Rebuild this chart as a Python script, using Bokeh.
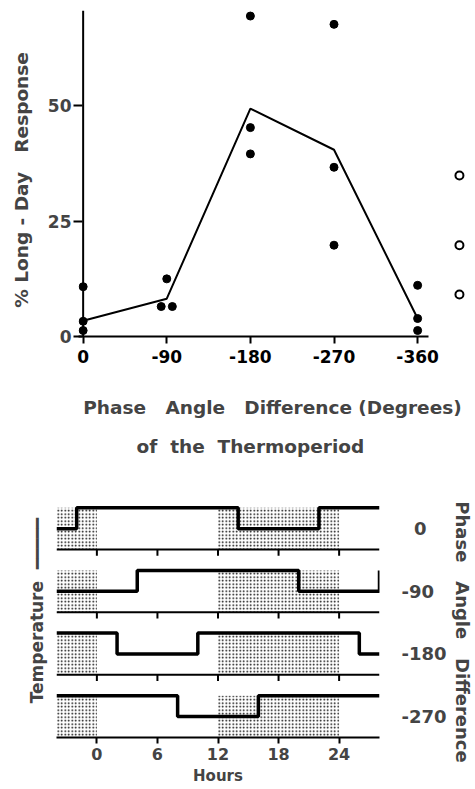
from bokeh.plotting import figure
from bokeh.models import Range1d, FixedTicker, Span, Title, LinearAxis
from bokeh.layouts import column
from bokeh.embed import file_html
from bokeh.resources import INLINE

# ---------------- upper panel data ----------------
phase_pts = [0, 0, 0, -84, -96, -90, -180, -180, -180, -270, -270, -270, -360, -360, -360]
resp_pts = [10.8, 3.3, 1.3, 6.5, 6.5, 12.5, 69.5, 45.3, 39.6, 67.7, 36.7, 19.8, 11.1, 3.9, 1.3]
mean_phase = [0, -90, -180, -270, -360]
mean_resp = [3.4, 8.2, 49.4, 40.5, 3.9]
control_phase = [-405, -405, -405]
control_resp = [34.9, 19.8, 9.1]
phase_ticks = [0, -90, -180, -270, -360]
phase_tick_labels = ["0", "-90", "-180", "-270", "-360"]
resp_ticks = [0, 25, 50]

# ---------------- lower panel data ----------------
hour_ticks = [0, 6, 12, 18, 24]
panel_labels = ["\u20070", "-90", "-180", "-270"]
dark_start = [-4, 12]
dark_end = [0, 24]
# temperature schedule per panel: change hours and level (1 = cool, 2 = warm)
step_hours = [
    [-4, -2, 14, 22, 28],
    [-4, 4, 20, 28],
    [-4, 2, 10, 26, 28],
    [-4, 8, 16, 28],
]
step_level = [
    [1, 2, 1, 2, 2],
    [1, 2, 1, 2],
    [2, 1, 2, 1, 1],
    [2, 1, 2, 2],
]

FONT = "DejaVu Sans"
NB = "\u00a0"
PANEL_GAP = 3  # vertical spacing between schedule strips (data units)

# ================= upper figure =================
top = figure(width=467, height=470, x_range=Range1d(5, -412.6), y_range=Range1d(0, 70.7),
             output_backend="svg", toolbar_location=None, frame_align=False,
             min_border_left=78, min_border_right=1, min_border_top=10, min_border_bottom=133)
top.outline_line_color = None
top.grid.visible = False
top.background_fill_color = "white"

xa = top.xaxis[0]
xa.ticker = FixedTicker(ticks=phase_ticks)
xa.major_label_overrides = {t: s for t, s in zip(phase_ticks, phase_tick_labels)}
xa.bounds = (-372, 5)
xa.axis_line_width = 2
xa.major_tick_line_width = 2
xa.major_tick_out = 7
xa.major_tick_in = 0
xa.minor_tick_line_color = None
xa.major_label_standoff = 6
xa.major_label_text_font = FONT
xa.major_label_text_font_style = "bold"
xa.major_label_text_font_size = "17px"
xa.major_label_text_color = "black"
xa.axis_label = f"Phase{NB}{NB} Angle{NB}{NB} Difference (Degrees)"
xa.axis_label_text_font = FONT
xa.axis_label_text_font_style = "bold"
xa.axis_label_text_font_size = "18.5px"
xa.axis_label_standoff = 31

ya = top.yaxis[0]
ya.ticker = FixedTicker(ticks=resp_ticks)
ya.axis_line_color = None
ya.major_tick_line_width = 2
ya.major_tick_out = 5
ya.major_tick_in = 4
ya.minor_tick_line_color = None
ya.major_label_standoff = 2
ya.major_label_text_font = FONT
ya.major_label_text_font_style = "bold"
ya.major_label_text_font_size = "17px"
ya.axis_label = f"% Long - Day{NB}{NB} Response{NB}{NB}"
ya.axis_label_text_font = FONT
ya.axis_label_text_font_style = "bold"
ya.axis_label_text_font_size = "18.5px"
ya.axis_label_standoff = 13

top.add_layout(Span(location=0, dimension="height", line_color="black", line_width=2))

top.line(mean_phase, mean_resp, line_color="black", line_width=2)
top.scatter(phase_pts, resp_pts, size=8, color="black")
top.scatter(control_phase, control_resp, size=8, fill_color="white", line_color="black", line_width=2)

top.add_layout(Title(text=f"of{NB} the{NB} Thermoperiod", align="left", offset=58,
                     text_font=FONT, text_font_style="bold", text_font_size="18.5px",
                     standoff=27), "below")

# ================= lower figure =================
bot = figure(width=475, height=318, x_range=Range1d(-4, 28), y_range=Range1d(-9, 2.3),
             output_backend="svg", toolbar_location=None, frame_align=False,
             min_border_left=56, min_border_right=87, min_border_top=31, min_border_bottom=51)
bot.outline_line_color = None
bot.grid.visible = False

n = len(step_hours)
for k in range(n):
    base = -PANEL_GAP * k
    bot.quad(left=dark_start, right=dark_end, bottom=[base] * len(dark_start), top=[base + 2] * len(dark_start),
             fill_color="white", line_color=None, hatch_pattern="dot", hatch_color="black",
             hatch_scale=3.5, hatch_weight=1.6)
for k in range(n - 1):
    base = -PANEL_GAP * k
    bot.segment(x0=[-4], y0=[base], x1=[28], y1=[base], line_color="black", line_width=2)
    bot.segment(x0=hour_ticks, y0=[base] * len(hour_ticks), x1=hour_ticks, y1=[base - 0.3] * len(hour_ticks),
                line_color="black", line_width=2)
for k in range(n):
    base = -PANEL_GAP * k
    bot.step(step_hours[k], [base + v for v in step_level[k]], mode="after", line_color="black", line_width=3.5)

bx = bot.xaxis[0]
bx.ticker = FixedTicker(ticks=hour_ticks)
bx.axis_line_width = 2
bx.major_tick_line_width = 2
bx.major_tick_out = 6
bx.major_tick_in = 0
bx.minor_tick_line_color = None
bx.major_label_standoff = 4
bx.major_label_text_font = FONT
bx.major_label_text_font_style = "bold"
bx.major_label_text_font_size = "16px"
bx.axis_label = "Hours"
bx.axis_label_text_font = FONT
bx.axis_label_text_font_style = "bold"
bx.axis_label_text_font_size = "15px"
bx.axis_label_standoff = 4

by = bot.yaxis[0]
by.ticker = FixedTicker(ticks=[])
by.axis_line_color = None
by.major_tick_line_color = None
by.minor_tick_line_color = None
by.axis_label = f"{NB}{NB}{NB}Temperature{NB}{NB}\u2501\u2501\u2501\u2501\u2501"
by.axis_label_text_font = FONT
by.axis_label_text_font_style = "bold"
by.axis_label_text_font_size = "17px"
by.axis_label_standoff = 10

label_pos = [-PANEL_GAP * k + 1 for k in range(n)]
ry = LinearAxis(ticker=FixedTicker(ticks=label_pos),
                major_label_overrides={p: t for p, t in zip(label_pos, panel_labels)},
                axis_line_color=None, major_tick_line_color=None, minor_tick_line_color=None,
                major_label_standoff=16, major_label_text_font=FONT, major_label_text_font_style="bold",
                major_label_text_font_size="18px",
                axis_label=f"{NB}{NB}{NB}{NB}Phase{NB}{NB} Angle{NB}{NB} Difference",
                axis_label_text_font=FONT,
                axis_label_text_font_style="bold", axis_label_text_font_size="18px",
                axis_label_standoff=2)
bot.add_layout(ry, "right")

layout = column(top, bot, spacing=0)
open("out.html", "w").write(file_html(layout, INLINE))
